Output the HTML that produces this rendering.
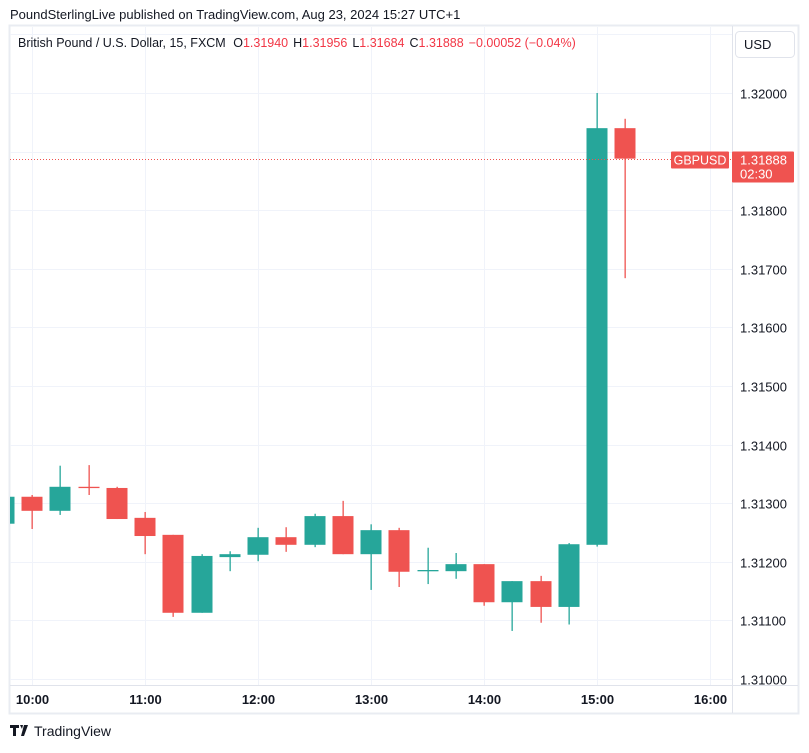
<!DOCTYPE html>
<html><head><meta charset="utf-8"><style>
body{margin:0;background:#fff;font-family:"Liberation Sans",sans-serif;}
svg text{font-family:"Liberation Sans",sans-serif;}
</style></head><body>
<svg id="c" width="809" height="748" xmlns="http://www.w3.org/2000/svg">
<defs><clipPath id="pane"><rect x="10" y="26" width="722" height="659"/></clipPath></defs>
<text x="10" y="19" font-size="13" fill="#131722">PoundSterlingLive published on TradingView.com, Aug 23, 2024 15:27 UTC+1</text>
<rect x="9.5" y="25.5" width="789" height="688" fill="none" stroke="#e9ecf2" stroke-width="2"/>
<g id="grid"></g>
<line x1="732.5" y1="26" x2="732.5" y2="713" stroke="#e0e3eb"/>
<line x1="10" y1="685.5" x2="798" y2="685.5" stroke="#e0e3eb"/>
<g id="candles" clip-path="url(#pane)"></g>
<g id="axes"></g>
<text x="18" y="47" font-size="12.5" fill="#131722">British Pound / U.S. Dollar, 15, FXCM <tspan dx="4">O</tspan><tspan fill="#f23645">1.31940</tspan><tspan dx="5">H</tspan><tspan fill="#f23645">1.31956</tspan><tspan dx="5">L</tspan><tspan fill="#f23645">1.31684</tspan><tspan dx="5">C</tspan><tspan fill="#f23645">1.31888</tspan><tspan dx="5" fill="#f23645">−0.00052 (−0.04%)</tspan></text>
<rect x="735.5" y="31.5" width="59" height="26" rx="4" fill="#fff" stroke="#e0e3eb"/>
<text x="744" y="49" font-size="13" fill="#131722">USD</text>
<g>
<path d="M10 725h9v3h-3v8h-3v-8h-3z M20 725h3l-1 4z M24 725h4l-4 11h-3z" fill="#131722"/>
<text x="34" y="736" font-size="14" fill="#131722">TradingView</text>
</g>
</svg>
<script>
const times=["09:45","10:00","10:15","10:30","10:45","11:00","11:15","11:30","11:45","12:00","12:15","12:30","12:45","13:00","13:15","13:30","13:45","14:00","14:15","14:30","14:45","15:00","15:15"];
const opens=[1.31265,1.31311,1.31287,1.31328,1.31326,1.31275,1.31246,1.31113,1.31208,1.31212,1.31242,1.31229,1.31278,1.31213,1.31254,1.31186,1.31184,1.31196,1.31131,1.31167,1.31123,1.31229,1.31940];
const highs=[1.31311,1.31314,1.31364,1.31365,1.31328,1.31285,1.31246,1.31213,1.31218,1.31258,1.31259,1.31282,1.31304,1.31264,1.31258,1.31224,1.31215,1.31196,1.31167,1.31176,1.31232,1.32000,1.31956];
const lows=[1.31265,1.31256,1.31280,1.31314,1.31273,1.31213,1.31106,1.31113,1.31184,1.31201,1.31217,1.31225,1.31213,1.31152,1.31157,1.31162,1.31171,1.31125,1.31082,1.31096,1.31093,1.31226,1.31684];
const closes=[1.31311,1.31287,1.31328,1.31327,1.31273,1.31244,1.31113,1.31210,1.31213,1.31242,1.31229,1.31278,1.31213,1.31254,1.31183,1.31186,1.31196,1.31131,1.31167,1.31123,1.31230,1.31940,1.31888];
const priceTicks=[1.310,1.311,1.312,1.313,1.314,1.315,1.316,1.317,1.318,1.319,1.320,1.321];
const timeTicks=["10:00","11:00","12:00","13:00","14:00","15:00","16:00"];
const lastPrice=1.31888;
const NS="http://www.w3.org/2000/svg";
function y(p){return 93+(1.32-p)*58600;}
function tmin(t){const [h,m]=t.split(":").map(Number);return h*60+m;}
function x(t){return 32+(tmin(t)-600)*113/60;}
function el(tag,attrs,parent){const e=document.createElementNS(NS,tag);for(const k in attrs)e.setAttribute(k,attrs[k]);parent.appendChild(e);return e;}
const grid=document.getElementById('grid'),cg=document.getElementById('candles'),ax=document.getElementById('axes');
priceTicks.forEach(p=>{const yy=Math.round(y(p))+0.5;if(yy<27||yy>685)return;
const l=el('line',{x1:10,x2:732,y1:yy,y2:yy,stroke:'#f0f3fa'},grid);


if(p<1.3205&&Math.abs(p-1.319)>0.0005){const t=el('text',{x:740,y:yy+5,'font-size':13,fill:'#131722'},ax);t.textContent=p.toFixed(5);

}});
timeTicks.forEach(t=>{const xx=Math.round(x(t))+0.5;
const l=el('line',{x1:xx,x2:xx,y1:27,y2:685,stroke:'#f0f3fa'},grid);


const tx=el('text',{x:xx,y:704,'font-size':13,'font-weight':'bold',fill:'#131722','text-anchor':'middle'},ax);tx.textContent=t;

});
times.forEach((t,i)=>{const up=closes[i]>=opens[i];const col=up?'#26a69a':'#ef5350';const cx=Math.round(x(t));
const g=el('g',{},cg);


el('rect',{x:cx-0.5,y:y(highs[i]),width:1.3,height:Math.max(1,y(lows[i])-y(highs[i])),fill:col},g);
const top=y(Math.max(opens[i],closes[i])),bot=y(Math.min(opens[i],closes[i]));
el('rect',{x:cx-10.5,y:top,width:21,height:Math.max(1.3,bot-top),fill:col},g);});
const ly=Math.round(y(lastPrice))+0.5;
const dl=el('line',{x1:10,x2:732,y1:ly,y2:ly,stroke:'#ef5350','stroke-dasharray':'1 2'},ax);


const sb=el('rect',{x:671,y:ly-8,width:58,height:17,fill:'#ef5350',rx:1},ax);


const st=el('text',{x:700,y:ly+5,'font-size':12.5,fill:'#fff','text-anchor':'middle'},ax);st.textContent='GBPUSD';


const pb=el('rect',{x:732,y:ly-8,width:62,height:31,fill:'#ef5350',rx:1},ax);


const pt=el('text',{x:740,y:ly+5,'font-size':13,fill:'#fff'},ax);pt.textContent=lastPrice.toFixed(5);


const ct=el('text',{x:740,y:ly+19,'font-size':13,fill:'#fff'},ax);ct.textContent='02:30';


</script>
</body></html>
